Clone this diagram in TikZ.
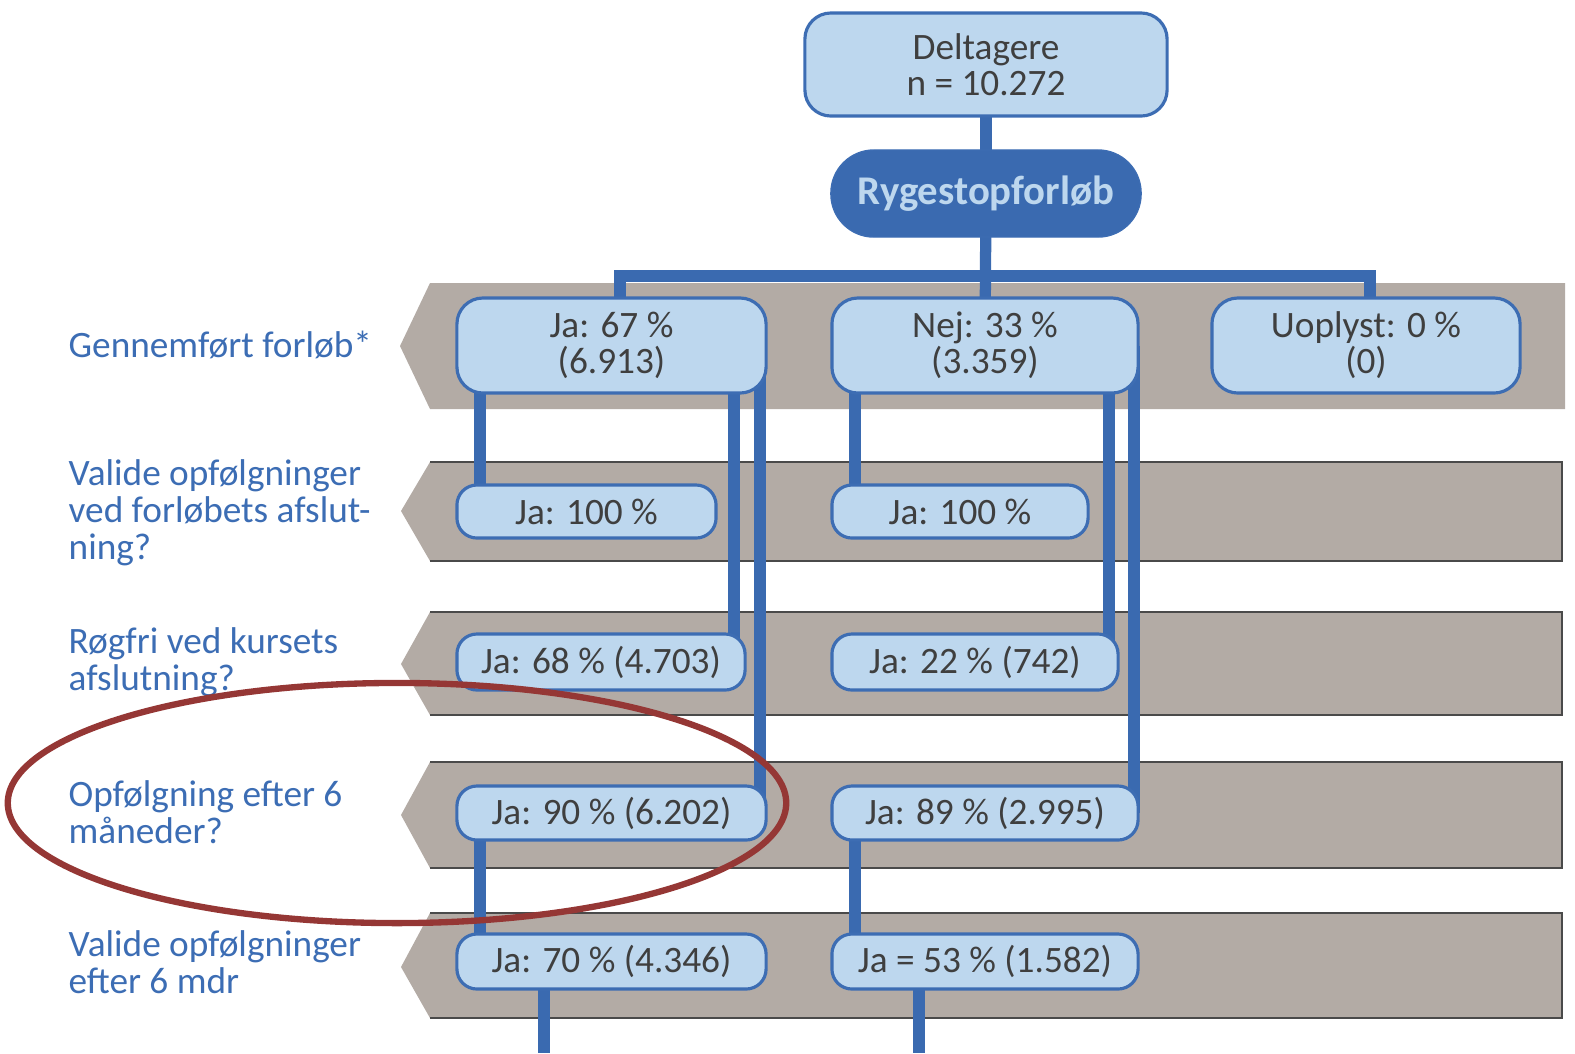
\documentclass[tikz,border=0pt]{standalone}
\usepackage{fontspec}
\setmainfont{Carlito}
\usetikzlibrary{backgrounds}
\definecolor{band}{HTML}{B3ABA5}
\definecolor{boxfill}{HTML}{BDD7EE}
\definecolor{boxline}{HTML}{3D6DB3}
\definecolor{conn}{HTML}{3A6AB0}
\definecolor{txt}{HTML}{3F3F3F}
\definecolor{lbl}{HTML}{3C6DB4}
\definecolor{ring}{HTML}{953735}
\definecolor{edge}{HTML}{4A4A4A}
\tikzset{
  bandfill/.style={fill=band, draw=none},
  bandedge/.style={draw=edge, line width=0.8pt},
  infobox/.style={rectangle, rounded corners=0.2cm, fill=boxfill, draw=boxline, line width=0.9pt,
    inner sep=0pt, align=center, text=txt, font=\fontsize{10.6}{10.3}\selectfont},
  bigbox/.style={infobox, rounded corners=0.26cm},
  darkbox/.style={rectangle, rounded corners=0.43cm, fill=conn, draw=boxline, inner sep=0pt,
    text=boxfill, font=\fontsize{11.6}{12}\selectfont\bfseries},
  link/.style={draw=conn, line width=3.2pt},
  sidelabel/.style={anchor=west, align=left, text=lbl, inner sep=0pt,
    font=\fontsize{10.6}{10.5}\selectfont},
}
\begin{document}
\begin{tikzpicture}[x=0.01cm, y=-0.01cm]
\useasboundingbox (0,0) rectangle (1575,1053);
% column coordinates
\coordinate (barL) at (620,276);
\coordinate (barR) at (1370,276);
\coordinate (cA) at (480,0);
\coordinate (cB) at (734,0);
\coordinate (cC) at (760,0);
\coordinate (cD) at (544,0);
\coordinate (cE) at (855,0);
\coordinate (cF) at (1109,0);
\coordinate (cG) at (1134,0);
\coordinate (cH) at (919,0);
\coordinate (bottomL) at (544,1053);
\coordinate (bottomR) at (919,1053);
% boxes
\node[bigbox, minimum width=3.62cm, minimum height=1.03cm] (delt) at (986,64.5) {Deltagere\\n = 10.272};
\node[darkbox, minimum width=3.10cm, minimum height=0.87cm] (ryg) at (986,193.5) {Rygestopforløb};
\node[bigbox, minimum width=3.09cm, minimum height=0.95cm] (ja67) at (611.5,345.5) {Ja: 67 \%\\(6.913)};
\node[bigbox, minimum width=3.06cm, minimum height=0.95cm] (nej33) at (985,345.5) {Nej: 33 \%\\(3.359)};
\node[bigbox, minimum width=3.08cm, minimum height=0.95cm] (uopl) at (1366,345.5) {Uoplyst: 0 \%\\(0)};
\node[infobox, minimum width=2.59cm, minimum height=0.53cm] (jaA2) at (586.5,511.5) {Ja: 100 \%};
\node[infobox, minimum width=2.56cm, minimum height=0.53cm] (jaB2) at (960,511.5) {Ja: 100 \%};
\node[infobox, minimum width=2.88cm, minimum height=0.56cm] (jaA3) at (601,662) {Ja: 68 \% (4.703)};
\node[infobox, minimum width=2.86cm, minimum height=0.56cm] (jaB3) at (975,662) {Ja: 22 \% (742)};
\node[infobox, minimum width=3.09cm, minimum height=0.54cm] (jaA4) at (611.5,813) {Ja: 90 \% (6.202)};
\node[infobox, minimum width=3.06cm, minimum height=0.54cm] (jaB4) at (985,813) {Ja: 89 \% (2.995)};
\node[infobox, minimum width=3.09cm, minimum height=0.55cm] (jaA5) at (611.5,961.5) {Ja: 70 \% (4.346)};
\node[infobox, minimum width=3.06cm, minimum height=0.55cm] (jaB5) at (985,961.5) {Ja = 53 \% (1.582)};
\begin{scope}[on background layer]
% bands
\fill[bandfill] (430,283) -- (1565,283) -- (1565,409) -- (430,409) -- (400,346) -- cycle;
\foreach \t/\b/\m in {462/561/511, 612/715/664, 762/868/815, 913/1018/967}{
  \fill[bandfill] (430,\t) -- (1562,\t) -- (1562,\b) -- (430,\b) -- (401,\m) -- cycle;
  \draw[bandedge] (430,\t) -- (1562,\t) -- (1562,\b) -- (430,\b);
}
% connectors
\draw[link] (delt.center) -- (ryg.center);
\draw[link] (ryg.center) -- (nej33.center);
\draw[link] (ja67.center -| barL) -- (barL) -- (barR) -- (uopl.center -| barR);
\draw[link] (ja67.center -| cA) -- (jaA2.center -| cA);
\draw[link] (ja67.center -| cB) -- (jaA3.center -| cB);
\draw[link] (ja67.center -| cC) -- (jaA4.center -| cC);
\draw[link] (jaA4.center -| cA) -- (jaA5.center -| cA);
\draw[link] (jaA5.center -| cD) -- (bottomL);
\draw[link] (nej33.center -| cE) -- (jaB2.center -| cE);
\draw[link] (nej33.center -| cF) -- (jaB3.center -| cF);
\draw[link] (nej33.center -| cG) -- (jaB4.center -| cG);
\draw[link] (jaB4.center -| cE) -- (jaB5.center -| cE);
\draw[link] (jaB5.center -| cH) -- (bottomR);
\end{scope}
% left labels
\node[sidelabel] (l1) at (68,345) {Gennemført forløb*};
\node[sidelabel] (l2) at (68,513) {Valide opfølgninger\\ved forløbets afslut-\\ning?};
\node[sidelabel] (l3) at (68,662) {Røgfri ved kursets\\afslutning?};
\node[sidelabel] (l4) at (68,812) {Opfølgning efter 6\\måneder?};
\node[sidelabel] (l5) at (68,962) {Valide opfølgninger\\efter 6 mdr};
% highlight ring
\draw[ring, line width=1.8pt] (397,803) ellipse [x radius=3.89cm, y radius=1.20cm];
\end{tikzpicture}
\end{document}
